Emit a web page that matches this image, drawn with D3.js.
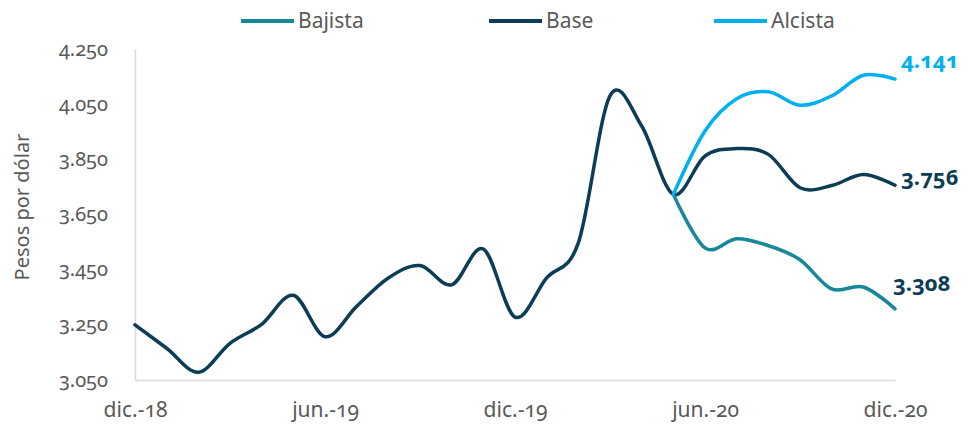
<!DOCTYPE html>
<html>
<head>
<meta charset="utf-8">
<script src="https://cdn.jsdelivr.net/npm/d3@7"></script>
<style>
body { margin: 0; background: #fff; }
svg text { font-family: "Noto Sans", sans-serif; font-variant-numeric: oldstyle-nums; }
</style>
</head>
<body>
<svg id="chart" width="977" height="430"></svg>
<script>
// months dic.-18 .. dic.-20
var months = ["dic.-18","ene.-19","feb.-19","mar.-19","abr.-19","may.-19","jun.-19","jul.-19","ago.-19","sep.-19","oct.-19","nov.-19",
              "dic.-19","ene.-20","feb.-20","mar.-20","abr.-20","may.-20","jun.-20","jul.-20","ago.-20","sep.-20","oct.-20","nov.-20","dic.-20"];

// observed series, dic.-18 .. may.-20
var historico = [3250, 3165, 3078, 3183, 3252, 3357, 3207, 3317, 3420, 3465, 3395, 3525,
                 3278, 3420, 3547, 4080, 3971, 3723];

// scenarios, may.-20 .. dic.-20
var bajista = [3723, 3529, 3562, 3537, 3486, 3380, 3387, 3308];
var base    = [3723, 3862, 3889, 3868, 3747, 3755, 3795, 3756];
var alcista = [3723, 3953, 4070, 4095, 4046, 4080, 4155, 4141];
var scenarioStart = 17;

var yTicks = [3050, 3250, 3450, 3650, 3850, 4050, 4250];
var xTickIndex = [0, 6, 12, 18, 24];

var colors = { Bajista: "#17879A", Base: "#0B3D57", Alcista: "#00B0F0" };

var svg = d3.select("#chart");
var fmt = d3.formatLocale({ decimal: ",", thousands: ".", grouping: [3], currency: ["$", ""] }).format(",d");

var x = d3.scaleLinear().domain([0, months.length - 1]).range([135, 895]);
var y = d3.scaleLinear().domain([3050, 4250]).range([380, 49]);

// axes
var yAxis = svg.append("g")
    .attr("transform", "translate(135,0)")
    .call(d3.axisLeft(y).tickValues(yTicks).tickFormat(fmt).tickSize(0).tickSizeOuter(0).tickPadding(27));
yAxis.select(".domain").attr("stroke", "#D9D9D9").attr("stroke-width", 1.5);
yAxis.selectAll("text").attr("font-size", 20).attr("fill", "#595959").attr("dy", "0.3em");

var xAxis = svg.append("g")
    .attr("transform", "translate(0,380)")
    .call(d3.axisBottom(x).tickValues(xTickIndex).tickFormat(function(i) { return months[i]; })
        .tickSize(0).tickSizeOuter(0).tickPadding(22));
xAxis.select(".domain").attr("stroke", "#D9D9D9").attr("stroke-width", 1.5);
xAxis.selectAll("text").attr("font-size", 21).attr("fill", "#595959");

svg.append("text")
    .attr("transform", "translate(29,207) rotate(-90)")
    .attr("text-anchor", "middle")
    .attr("font-size", 20)
    .attr("fill", "#595959")
    .text("Pesos por dólar");

// lines
var line = d3.line()
    .x(function(d) { return x(d.i); })
    .y(function(d) { return y(d.v); })
    .curve(d3.curveCardinal.tension(0));

function toPoints(values, offset) {
    return values.map(function(v, k) { return { i: k + offset, v: v }; });
}

var series = [
    { name: "Base", values: toPoints(historico.concat(base.slice(1)), 0) },
    { name: "Bajista", values: toPoints(bajista, scenarioStart) },
    { name: "Alcista", values: toPoints(alcista, scenarioStart) }
];

svg.selectAll(".line")
    .data(series)
    .enter().append("path")
    .attr("class", "line")
    .attr("d", function(d) { return line(d.values); })
    .attr("fill", "none")
    .attr("stroke", function(d) { return colors[d.name]; })
    .attr("stroke-width", 3.5)
    .attr("stroke-linejoin", "round")
    .attr("stroke-linecap", "round");

// end labels
var endLabels = [
    { name: "Alcista", fill: "#00B0F0", dx: 6, dy: -11 },
    { name: "Base", fill: "#0B3D57", dx: 6, dy: 0 },
    { name: "Bajista", fill: "#0B3D57", dx: -2, dy: -18 }
];
svg.selectAll(".endLabel")
    .data(endLabels)
    .enter().append("text")
    .attr("class", "endLabel")
    .attr("x", function(d) {
        var s = series.find(function(e) { return e.name == d.name; });
        return x(s.values[s.values.length - 1].i) + d.dx;
    })
    .attr("y", function(d) {
        var s = series.find(function(e) { return e.name == d.name; });
        return y(s.values[s.values.length - 1].v) + d.dy;
    })
    .attr("font-size", 22)
    .attr("font-weight", "bold")
    .attr("fill", function(d) { return d.fill; })
    .text(function(d) {
        var s = series.find(function(e) { return e.name == d.name; });
        return fmt(s.values[s.values.length - 1].v);
    });

// legend
var legendNames = ["Bajista", "Base", "Alcista"];
var legendX = [241, 489, 714];
var legend = svg.selectAll(".legend")
    .data(legendNames)
    .enter().append("g")
    .attr("class", "legend")
    .attr("transform", function(d, i) { return "translate(" + legendX[i] + ",21)"; });
legend.append("line")
    .attr("x1", 0).attr("x2", 53)
    .attr("stroke", function(d) { return colors[d]; })
    .attr("stroke-width", 4);
legend.append("text")
    .attr("x", 57)
    .attr("dy", "0.35em")
    .attr("font-size", 21)
    .attr("fill", "#595959")
    .text(function(d) { return d; });
</script>
</body>
</html>
